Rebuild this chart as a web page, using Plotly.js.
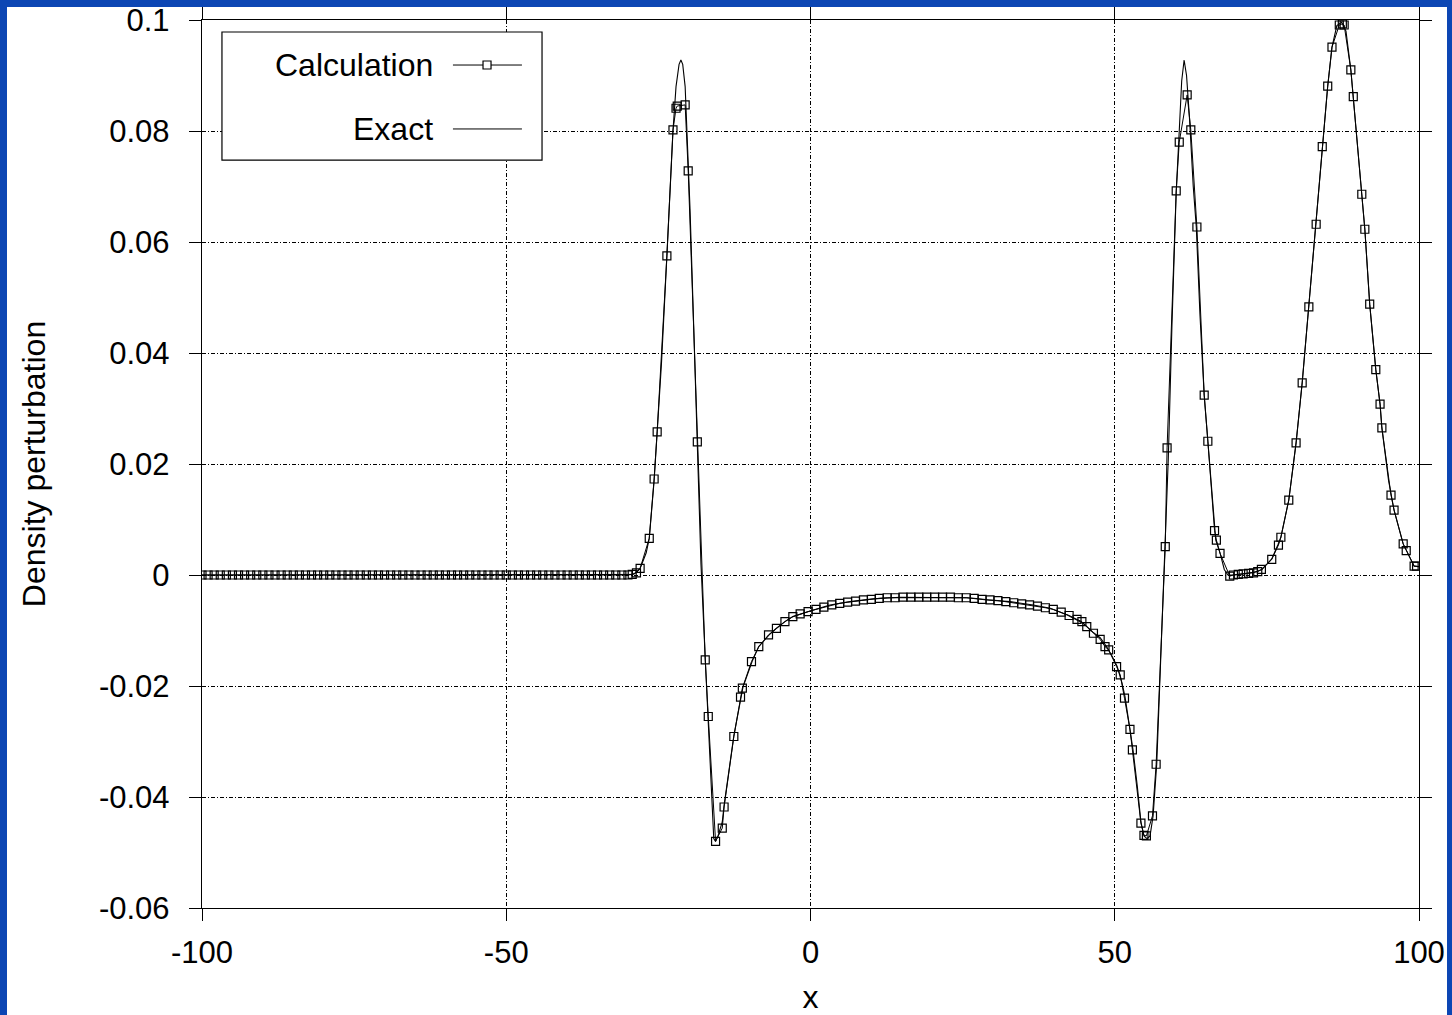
<!DOCTYPE html>
<html>
<head>
<meta charset="utf-8">
<script src="https://cdn.plot.ly/plotly-3.0.1.min.js"></script>
<style>
  html, body { margin: 0; padding: 0; background: #fff; width: 1452px; height: 1015px; overflow: hidden; }
  #chart { position: absolute; left: 0; top: 0; width: 1452px; height: 1015px; }
  #frame { position: absolute; left: 0; top: 0; width: 1440px; height: 1008px; pointer-events: none;
           border-left: 7px solid rgb(12,70,180); border-top: 7px solid rgb(12,70,180); border-right: 5px solid rgb(12,70,180); }
</style>
</head>
<body>
<div id="chart"></div>
<div id="frame"></div>
<script>
// ---- Data ----
const calcX = [
  -100,-99,-98,-97,-96,-95,-94,-93,-92,-91,-90,-89,-88,-87,-86,-85,-84,-83,-82,-81,
  -80,-79,-78,-77,-76,-75,-74,-73,-72,-71,-70,-69,-68,-67,-66,-65,-64,-63,-62,-61,
  -60,-59,-58,-57,-56,-55,-54,-53,-52,-51,-50,-49,-48,-47,-46,-45,-44,-43,-42,-41,
  -40,-39,-38,-37,-36,-35,-34,-33,-32,-31,-30,-29.3,
  -28.6,-28.0,-26.5,-25.7,-25.2,-23.6,-22.6,-22.1,-21.9,-20.6,-20.1,-18.6,-17.3,-16.8,
  -15.6,-14.5,-14.2,-12.6,-11.5,-11.2,-9.7,-8.5,-6.9,-5.6,-4.2,-2.9,-1.7,-0.4,
  0.9,2.2,3.5,4.8,6.1,7.4,8.7,10.0,11.3,12.6,13.9,15.2,16.5,17.8,19.1,20.4,21.7,23.0,
  24.3,25.6,26.9,28.2,29.5,30.8,32.1,33.4,34.7,36.0,37.3,38.6,39.9,41.2,42.5,43.8,
  44.6,45.4,46.5,47.6,48.4,49.0,50.3,50.9,51.6,52.5,52.9,54.3,54.8,55.2,56.2,56.8,
  58.3,58.6,60.1,60.6,61.9,62.5,63.5,64.7,65.3,66.4,66.7,67.3,68.9,69.5,70.3,71.1,
  72.0,72.8,73.5,74.1,75.8,76.9,77.3,78.6,79.8,80.8,81.9,83.1,84.1,85.0,85.7,86.9,
  87.4,87.7,88.8,89.2,90.6,91.1,91.9,92.9,93.6,93.9,95.4,95.9,97.4,97.9,99.2,99.6
];
const calcY = [
  0,0,0,0,0,0,0,0,0,0,0,0,0,0,0,0,0,0,0,0,
  0,0,0,0,0,0,0,0,0,0,0,0,0,0,0,0,0,0,0,0,
  0,0,0,0,0,0,0,0,0,0,0,0,0,0,0,0,0,0,0,0,
  0,0,0,0,0,0,0,0,0,0,0,0.0001,
  0.0004,0.0012,0.0066,0.0173,0.0258,0.0575,0.0802,0.0841,0.0845,0.0847,0.0728,0.0240,-0.0153,-0.0255,
  -0.0480,-0.0456,-0.0418,-0.0291,-0.0220,-0.0204,-0.0156,-0.0129,-0.0108,-0.0096,-0.0084,-0.0075,-0.0070,-0.0066,
  -0.0062,-0.0058,-0.0054,-0.0051,-0.0049,-0.0047,-0.0045,-0.0044,-0.0042,-0.0041,-0.0041,-0.0040,-0.0040,-0.0040,-0.0040,-0.0040,-0.0040,-0.0040,
  -0.0041,-0.0041,-0.0042,-0.0044,-0.0045,-0.0046,-0.0048,-0.0050,-0.0052,-0.0054,-0.0056,-0.0059,-0.0062,-0.0067,-0.0073,-0.0080,
  -0.0084,-0.0093,-0.0105,-0.0116,-0.0129,-0.0135,-0.0165,-0.0180,-0.0222,-0.0278,-0.0315,-0.0447,-0.0469,-0.0470,-0.0434,-0.0341,
  0.0051,0.0229,0.0692,0.0780,0.0865,0.0802,0.0627,0.0324,0.0241,0.0080,0.0063,0.0039,-0.0002,0.0000,0.0001,0.0002,
  0.0003,0.0004,0.0006,0.0010,0.0028,0.0054,0.0068,0.0135,0.0238,0.0346,0.0483,0.0632,0.0772,0.0881,0.0951,0.0991,
  0.0993,0.0991,0.0910,0.0862,0.0686,0.0623,0.0488,0.0370,0.0308,0.0265,0.0144,0.0117,0.0056,0.0044,0.0016,0.0016
];

const exactX = [
  -100,-30,-29,-28,-27,-26.5,-25.7,-25.2,-24.5,-23.6,-22.6,-22.1,-21.6,-21.3,-21.0,-20.6,-20.1,-19.8,-19.2,-18.6,
  -18.0,-17.3,-16.8,-16.3,-15.9,-15.6,-15.2,-14.5,-14.2,-12.6,-11.4,-11.1,-9.6,-8.5,-6.8,-5.6,-4.2,-2.9,0.2,3.2,
  6.5,10.3,14.7,20.1,25.7,29.0,32.8,36.6,39.4,42.2,44.8,46.4,47.6,48.7,49.5,50.4,51.2,51.7,52.5,53.0,
  53.7,54.3,54.8,55.3,55.8,56.3,56.9,57.4,57.9,58.3,58.8,59.4,60.1,60.6,61.0,61.4,61.8,62.3,62.9,63.4,
  64.0,64.7,65.3,66.0,66.6,67.3,68.0,68.6,69.4,71.1,72.7,74.2,75.8,76.8,77.3,78.6,79.8,80.8,81.9,83.1,
  84.1,85.0,85.7,86.5,87.3,88.0,88.8,89.2,90.6,91.1,91.9,92.9,93.6,93.9,95.0,95.4,95.9,97.4,97.9,99.2,100
];
const exactY = [
  0,0,0.0002,0.0012,0.0040,0.0066,0.0170,0.0260,0.0380,0.0575,0.0800,0.0880,0.0920,0.0928,0.0920,0.0880,0.0760,0.0660,0.0450,0.0240,
  0.0020,-0.0150,-0.0260,-0.0390,-0.0475,-0.0480,-0.0470,-0.0445,-0.0415,-0.0290,-0.0215,-0.0202,-0.0156,-0.0129,-0.0108,-0.0096,-0.0084,-0.0075,-0.0064,-0.0054,
  -0.0048,-0.0043,-0.0040,-0.0040,-0.0041,-0.0045,-0.0048,-0.0054,-0.0060,-0.0072,-0.0087,-0.0103,-0.0113,-0.0130,-0.0145,-0.0165,-0.0195,-0.0220,-0.0278,-0.0315,
  -0.0380,-0.0445,-0.0470,-0.0475,-0.0470,-0.0434,-0.0340,-0.0201,-0.0057,0.0050,0.0210,0.0450,0.0690,0.0800,0.0890,0.0928,0.0900,0.0820,0.0700,0.0627,
  0.0470,0.0324,0.0241,0.0130,0.0063,0.0040,0.0010,0.0000,0.0000,0.0002,0.0004,0.0010,0.0029,0.0054,0.0068,0.0135,0.0238,0.0346,0.0483,0.0632,
  0.0772,0.0881,0.0951,0.0990,0.0996,0.0980,0.0910,0.0862,0.0686,0.0623,0.0488,0.0370,0.0308,0.0265,0.0170,0.0144,0.0117,0.0056,0.0044,0.0016,0.0015
];

const xTickVals = [-100, -50, 0, 50, 100];
const xTickText = ["-100", "-50", "0", "50", "100"];
const yTickVals = [0.1, 0.08, 0.06, 0.04, 0.02, 0, -0.02, -0.04, -0.06];
const yTickText = ["0.1", "0.08", "0.06", "0.04", "0.02", "0", "-0.02", "-0.04", "-0.06"];
const seriesNames = ["Calculation", "Exact"];

// ---- Chart ----
const FONT = "Liberation Sans, Arial, Helvetica, sans-serif";
const traces = [
  {
    x: exactX, y: exactY, name: seriesNames[1], type: "scatter", mode: "lines",
    line: { color: "#000", width: 1.1 }, showlegend: false, hoverinfo: "x+y"
  },
  {
    x: calcX, y: calcY, name: seriesNames[0], type: "scatter", mode: "lines+markers",
    line: { color: "#000", width: 1 },
    marker: { symbol: "square-open", size: 8, color: "#000", line: { width: 1.2, color: "#000" } },
    showlegend: false, hoverinfo: "x+y"
  }
];

const axisCommon = {
  showline: true, linecolor: "#000", linewidth: 1.2, mirror: "ticks",
  ticks: "outside", ticklen: 12, tickwidth: 1, tickcolor: "#000",
  showgrid: true, gridcolor: "#000", gridwidth: 1, griddash: "4px,2px,1px,2px",
  zeroline: false, tickmode: "array", ticklabeloverflow: "allow",
  tickfont: { family: FONT, size: 31, color: "#000" }
};

// legend built from shapes + annotations (text on the left, sample on the right)
const legX0 = 0.0164, legX1 = 0.2794, legY0 = 0.8423, legY1 = 0.9865;
const row1 = 0.9493, row2 = 0.8773;
const sampleX0 = 0.2062, sampleX1 = 0.2629, sampleMid = 0.2342, textRight = 0.1914;

const layout = {
  width: 1452, height: 1015,
  margin: { l: 202, r: 33, t: 20, b: 107, pad: 0 },
  paper_bgcolor: "#fff", plot_bgcolor: "#fff",
  font: { family: FONT, size: 31, color: "#000" },
  showlegend: false,
  xaxis: Object.assign({}, axisCommon, {
    range: [-100, 100], tickvals: xTickVals, ticktext: xTickText,
    ticklabelstandoff: 5,
    title: { text: "x", font: { family: FONT, size: 32, color: "#000" }, standoff: 24 }
  }),
  yaxis: Object.assign({}, axisCommon, {
    range: [-0.0600001, 0.1000001], tickvals: yTickVals, ticktext: yTickText,
    ticklabelstandoff: 13,
    title: { text: "Density perturbation", font: { family: FONT, size: 32, color: "#000" }, standoff: 43 }
  }),
  shapes: [
    { type: "rect", xref: "paper", yref: "paper", x0: legX0, x1: legX1, y0: legY0, y1: legY1,
      line: { color: "#000", width: 1.2 }, fillcolor: "#fff", layer: "above" },
    { type: "line", xref: "paper", yref: "paper", x0: sampleX0, x1: sampleX1, y0: row1, y1: row1,
      line: { color: "#000", width: 1 }, layer: "above" },
    { type: "rect", xref: "paper", yref: "paper", xsizemode: "pixel", ysizemode: "pixel",
      xanchor: sampleMid, yanchor: row1, x0: -4, x1: 4, y0: -4, y1: 4,
      line: { color: "#000", width: 1.2 }, fillcolor: "#fff", layer: "above" },
    { type: "line", xref: "paper", yref: "paper", x0: sampleX0, x1: sampleX1, y0: row2, y1: row2,
      line: { color: "#000", width: 1 }, layer: "above" }
  ],
  annotations: [
    { xref: "paper", yref: "paper", x: textRight, y: row1, xanchor: "right", yanchor: "middle",
      text: seriesNames[0], showarrow: false, font: { family: FONT, size: 32, color: "#000" } },
    { xref: "paper", yref: "paper", x: textRight, y: row2, xanchor: "right", yanchor: "middle",
      text: seriesNames[1], showarrow: false, font: { family: FONT, size: 32, color: "#000" } }
  ]
};

Plotly.newPlot("chart", traces, layout, { staticPlot: true, displayModeBar: false });
</script>
</body>
</html>
